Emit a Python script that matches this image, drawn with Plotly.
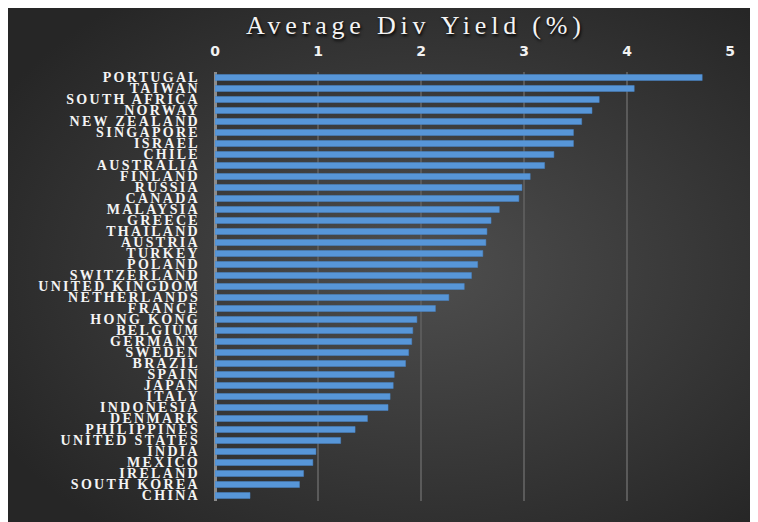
import plotly.graph_objects as go

countries = [
    "PORTUGAL", "TAIWAN", "SOUTH AFRICA", "NORWAY", "NEW ZEALAND", "SINGAPORE",
    "ISRAEL", "CHILE", "AUSTRALIA", "FINLAND", "RUSSIA", "CANADA", "MALAYSIA",
    "GREECE", "THAILAND", "AUSTRIA", "TURKEY", "POLAND", "SWITZERLAND",
    "UNITED KINGDOM", "NETHERLANDS", "FRANCE", "HONG KONG", "BELGIUM", "GERMANY",
    "SWEDEN", "BRAZIL", "SPAIN", "JAPAN", "ITALY", "INDONESIA", "DENMARK",
    "PHILIPPINES", "UNITED STATES", "INDIA", "MEXICO", "IRELAND", "SOUTH KOREA",
    "CHINA",
]
div_yield = [
    4.73, 4.07, 3.73, 3.66, 3.56, 3.48, 3.48, 3.29, 3.20, 3.06, 2.98, 2.95,
    2.76, 2.68, 2.64, 2.63, 2.60, 2.55, 2.49, 2.42, 2.27, 2.14, 1.96, 1.92,
    1.91, 1.88, 1.85, 1.74, 1.73, 1.70, 1.68, 1.48, 1.36, 1.22, 0.98, 0.95,
    0.86, 0.82, 0.34,
]
x_ticks = [0, 1, 2, 3, 4, 5]

W, H = 758, 522
L, R, T, B = 207, 36, 64, 29
pw, ph = W - L - R, H - T - B

# radial dark background like the Excel chart style
bg_svg = (
    "data:image/svg+xml;utf8,"
    "<svg xmlns='http://www.w3.org/2000/svg' width='758' height='522'>"
    "<defs><radialGradient id='g' cx='55%' cy='50%' r='65%'>"
    "<stop offset='0%' stop-color='%234e4e4e'/>"
    "<stop offset='100%' stop-color='%23262626'/>"
    "</radialGradient></defs>"
    "<rect width='758' height='522' fill='url(%23g)'/></svg>"
)

# the original labels are set wide, so add some letter spacing
y_text = ["<span style='letter-spacing:2.3px'>%s</span>" % c for c in countries]

fig = go.Figure()

fig.add_trace(go.Bar(
    x=div_yield,
    y=countries,
    orientation="h",
    marker=dict(color="#5796d8", line=dict(color="#4a86c8", width=0.5)),
    hovertemplate="%{y}: %{x:.2f}<extra></extra>",
))

fig.update_layout(
    width=W,
    height=H,
    paper_bgcolor="#333333",
    plot_bgcolor="rgba(0,0,0,0)",
    margin=dict(l=L, r=R, t=T, b=B),
    bargap=0.45,
    showlegend=False,
    title=dict(
        text="<span style='letter-spacing:4.8px'>Average Div Yield (%)</span>",
        x=0.538,
        xanchor="center",
        y=1 - 17 / H,
        yanchor="middle",
        font=dict(family="Liberation Serif", size=26, color="#f4f4f4",
                  shadow="1px 2px 3px #000000"),
    ),
    images=[dict(
        source=bg_svg, xref="paper", yref="paper", x=-L / pw, y=1 + T / ph,
        sizex=W / pw, sizey=H / ph, sizing="stretch", layer="below",
        xanchor="left", yanchor="top",
    )],
)

fig.update_xaxes(
    side="top",
    range=[0, 5],
    tickvals=x_ticks,
    showgrid=True,
    gridcolor="#5a5a5a",
    gridwidth=1.5,
    zeroline=True,
    zerolinecolor="#8c8c8c",
    zerolinewidth=2.5,
    tickfont=dict(family="DejaVu Sans", size=14, color="#f2f2f2", weight="bold"),
    ticks="",
    ticklabelstandoff=12,
    fixedrange=True,
)

fig.update_yaxes(
    autorange="reversed",
    tickmode="array",
    tickvals=countries,
    ticktext=y_text,
    showgrid=False,
    tickfont=dict(family="Liberation Serif", size=14, color="#f4f4f4", weight="bold"),
    ticks="",
    ticklabelstandoff=14,
    fixedrange=True,
)

fig.write_html("out.html")
